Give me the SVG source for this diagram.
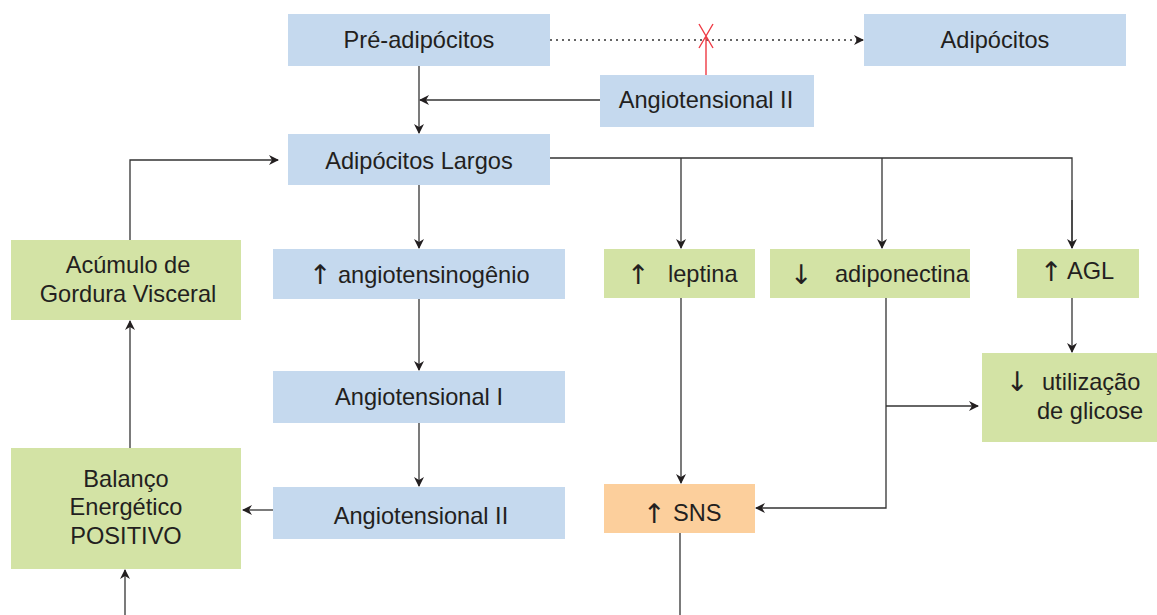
<svg xmlns="http://www.w3.org/2000/svg" width="1157" height="615" viewBox="0 0 1157 615">
  <style>
    .blue { fill: #c5d9ee; }
    .green { fill: #d3e3a5; }
    .orange { fill: #fccf9c; }
    text { font-family: "Liberation Sans", Arial, "DejaVu Sans", sans-serif; font-size: 23.6px; fill: #231f20; }
    text.ar { font-family: "DejaVu Sans", sans-serif; font-size: 27px; }
    .c { text-anchor: middle; }
    .ln { fill: none; stroke: #333; stroke-width: 1.3; }
    .red { fill: none; stroke: #ee3b45; stroke-width: 1.4; }
  </style>
  <defs>
    <marker id="arr" viewBox="0 0 10 10" refX="9" refY="5" markerWidth="10" markerHeight="10" markerUnits="userSpaceOnUse" orient="auto">
      <path d="M0,0 L10,5 L0,10 L3,5 Z" fill="#231f20"/>
    </marker>
  </defs>

  <rect width="1157" height="615" fill="#ffffff"/>

  <!-- connectors -->
  <g id="connectors">
    <path class="ln" d="M550,40 H863" stroke-dasharray="2 4" marker-end="url(#arr)"/>
    <path class="red" d="M706,75 V36 M699,24 L713,48 M713,24 L699,48"/>
    <path class="ln" d="M600,100 H420" marker-end="url(#arr)"/>
    <path class="ln" d="M419,66 V133" marker-end="url(#arr)"/>
    <path class="ln" d="M419,185 V248" marker-end="url(#arr)"/>
    <path class="ln" d="M419,299 V370" marker-end="url(#arr)"/>
    <path class="ln" d="M419,423 V486" marker-end="url(#arr)"/>
    <path class="ln" d="M550,158 H1072 V248"/>
    <path class="ln" d="M681,158 V248" marker-end="url(#arr)"/>
    <path class="ln" d="M882,158 V248" marker-end="url(#arr)"/>
    <path class="ln" d="M1072,200 V248" marker-end="url(#arr)"/>
    <path class="ln" d="M273,510 H243" marker-end="url(#arr)"/>
    <path class="ln" d="M130,448 V321" marker-end="url(#arr)"/>
    <path class="ln" d="M130,240 V160 H278" marker-end="url(#arr)"/>
    <path class="ln" d="M125,615 V570" marker-end="url(#arr)"/>
    <path class="ln" d="M681,298 V483" marker-end="url(#arr)"/>
    <path class="ln" d="M886,298 V508 H756" marker-end="url(#arr)"/>
    <path class="ln" d="M886,406 H978" marker-end="url(#arr)"/>
    <path class="ln" d="M1072,298 V352" marker-end="url(#arr)"/>
    <path class="ln" d="M680,533 V615"/>
  </g>

  <!-- nodes -->
  <g id="pre-adipocitos">
    <rect class="blue" x="288" y="14" width="262" height="52"/>
    <text class="c" x="419" y="48">Pré-adipócitos</text>
  </g>
  <g id="adipocitos">
    <rect class="blue" x="864" y="14" width="262" height="52"/>
    <text class="c" x="995" y="48">Adipócitos</text>
  </g>
  <g id="angiotensional-ii-top">
    <rect class="blue" x="600" y="75" width="214" height="52"/>
    <text class="c" x="706" y="108">Angiotensional II</text>
  </g>
  <g id="adipocitos-largos">
    <rect class="blue" x="288" y="134" width="262" height="51"/>
    <text class="c" x="419" y="169">Adipócitos Largos</text>
  </g>
  <g id="angiotensinogenio">
    <rect class="blue" x="273" y="249" width="292" height="50"/>
    <text class="ar" x="309" y="284">↑</text>
    <text x="338" y="283">angiotensinogênio</text>
  </g>
  <g id="angiotensional-i">
    <rect class="blue" x="273" y="371" width="292" height="52"/>
    <text class="c" x="419" y="405">Angiotensional I</text>
  </g>
  <g id="angiotensional-ii">
    <rect class="blue" x="273" y="487" width="292" height="52"/>
    <text class="c" x="421" y="524">Angiotensional II</text>
  </g>
  <g id="acumulo-gordura">
    <rect class="green" x="11" y="240" width="230" height="80"/>
    <text class="c" x="128" y="273">Acúmulo de</text>
    <text class="c" x="128" y="302">Gordura Visceral</text>
  </g>
  <g id="balanco-energetico">
    <rect class="green" x="11" y="448" width="230" height="121"/>
    <text class="c" x="126" y="487">Balanço</text>
    <text class="c" x="126" y="515">Energético</text>
    <text class="c" x="126" y="544">POSITIVO</text>
  </g>
  <g id="leptina">
    <rect class="green" x="604" y="249" width="151" height="49"/>
    <text class="ar" x="627" y="284">↑</text>
    <text x="668" y="282">leptina</text>
  </g>
  <g id="adiponectina">
    <rect class="green" x="770" y="249" width="200" height="49"/>
    <text class="ar" x="790" y="284">↓</text>
    <text x="835" y="282">adiponectina</text>
  </g>
  <g id="agl">
    <rect class="green" x="1017" y="249" width="122" height="49"/>
    <text class="ar" x="1040" y="281">↑</text>
    <text x="1067" y="279">AGL</text>
  </g>
  <g id="utilizacao-glicose">
    <rect class="green" x="982" y="353" width="175" height="89"/>
    <text class="ar" x="1006" y="391">↓</text>
    <text x="1042" y="390">utilização</text>
    <text x="1037" y="419">de glicose</text>
  </g>
  <g id="sns">
    <rect class="orange" x="604" y="484" width="151" height="49"/>
    <text class="ar" x="643" y="523">↑</text>
    <text x="673" y="521">SNS</text>
  </g>
</svg>
